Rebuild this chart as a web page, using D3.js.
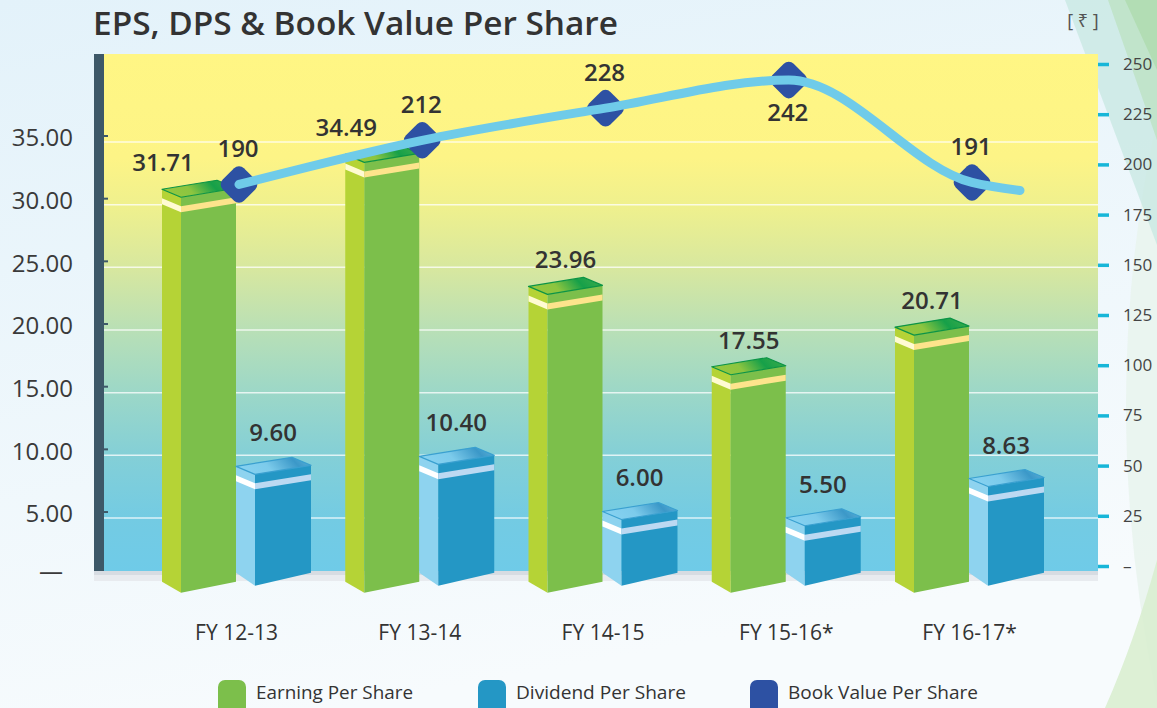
<!DOCTYPE html>
<html><head><meta charset="utf-8">
<script src="https://cdnjs.cloudflare.com/ajax/libs/d3/7.8.5/d3.min.js"></script>
<style>html,body{margin:0;padding:0;background:#eef7fc;}svg{display:block;}</style>
</head><body>
<script>
const categories = ["FY 12-13","FY 13-14","FY 14-15","FY 15-16*","FY 16-17*"];
const epsValues = [31.71, 34.49, 23.96, 17.55, 20.71];
const dpsValues = [9.60, 10.40, 6.00, 5.50, 8.63];
const bvpsValues = [190, 212, 228, 242, 191];
const leftTicks = [0, 5, 10, 15, 20, 25, 30, 35];
const rightTicks = [0, 25, 50, 75, 100, 125, 150, 175, 200, 225, 250];
const seriesNames = ["Earning Per Share", "Dividend Per Share", "Book Value Per Share"];
const titleText = "EPS, DPS & Book Value Per Share";
const unitText = "[ ₹ ]";

const W = 1157, H = 708;
const FONT = "'Open Sans','Noto Sans',sans-serif";
const svg = d3.select("body").append("svg").attr("width", W).attr("height", H);
const defs = svg.append("defs");

// page background
const pg = defs.append("linearGradient").attr("id","pageBg").attr("x1",0).attr("y1",0).attr("x2",0.3).attr("y2",1);
pg.append("stop").attr("offset",0).attr("stop-color","#e3f2fa");
pg.append("stop").attr("offset",1).attr("stop-color","#f7fbfd");
svg.append("rect").attr("width",W).attr("height",H).attr("fill","url(#pageBg)");

// decorative right-hand shapes
const deco = svg.append("g");
deco.append("path").attr("d","M1157,120 Q1095,400 1157,700 Z").attr("fill","#e9f4ee").attr("opacity",0.9);
deco.append("path").attr("d","M1105,708 Q1135,640 1157,560 L1157,708 Z").attr("fill","#d9eed0").attr("opacity",0.9);
deco.append("polygon").attr("points","1065,0 1157,0 1157,245").attr("fill","#c4e7df").attr("opacity",0.7);
deco.append("polygon").attr("points","1108,0 1157,0 1157,140").attr("fill","#bde2c3").attr("opacity",0.8);
deco.append("polygon").attr("points","1125,0 1157,0 1157,70").attr("fill","#abdaa9").attr("opacity",0.7);

// scales
const x = d3.scalePoint().domain(categories).range([236, 969]);
const yL = d3.scaleLinear().domain([0, 35]).range([580.7, 142]);
const yR = d3.scaleLinear().domain([0, 250]).range([566, 64]);

const plot = {x0:104, x1:1098, y0:54, y1:571};

// plot gradient
const bg = defs.append("linearGradient").attr("id","plotBg").attr("gradientUnits","userSpaceOnUse")
  .attr("x1",0).attr("y1",plot.y0).attr("x2",0).attr("y2",plot.y1);
[[0,"#fff684"],[0.2,"#fdf486"],[0.3,"#eef08e"],[0.42,"#d6e7a0"],[0.54,"#b7dfb7"],[0.66,"#9bd7c8"],[0.78,"#83cfd7"],[0.9,"#73cbe3"],[1,"#6fcbe8"]]
  .forEach(s => bg.append("stop").attr("offset", s[0]).attr("stop-color", s[1]));

svg.append("rect").attr("x",plot.x0).attr("y",plot.y0).attr("width",plot.x1-plot.x0).attr("height",plot.y1-plot.y0).attr("fill","url(#plotBg)");
svg.append("rect").attr("x",94).attr("y",plot.y0).attr("width",10).attr("height",plot.y1-plot.y0).attr("fill","#3d5868");
svg.append("rect").attr("x",94).attr("y",plot.y1).attr("width",plot.x1-94).attr("height",4).attr("fill","#d7dce2");
svg.append("rect").attr("x",94).attr("y",plot.y1+4).attr("width",plot.x1-94).attr("height",6).attr("fill","#e8ebef");

// gridlines
svg.append("g").selectAll("line").data(leftTicks.filter(d=>d>0)).join("line")
  .attr("x1",plot.x0).attr("x2",plot.x1).attr("y1",d=>yL(d)).attr("y2",d=>yL(d))
  .attr("stroke","#ffffff").attr("stroke-opacity",0.75).attr("stroke-width",1.5);
svg.append("g").selectAll("line").data(leftTicks.filter(d=>d>0)).join("line")
  .attr("x1",plot.x0).attr("x2",plot.x0+4).attr("y1",d=>yL(d)-6).attr("y2",d=>yL(d)-6)
  .attr("stroke","#3d5868").attr("stroke-width",2);

// title + unit
svg.append("text").attr("x",93).attr("y",35).text(titleText)
  .attr("font-family",FONT).attr("font-weight",600).attr("font-size",32).attr("fill","#333")
  .attr("textLength",525).attr("lengthAdjust","spacingAndGlyphs");
svg.append("text").attr("x",1083).attr("y",27).attr("text-anchor","middle").text(unitText)
  .attr("font-family","'Noto Sans','DejaVu Sans',sans-serif").attr("font-size",18).attr("fill","#555");

// axes
const gl = svg.append("g").attr("transform","translate(80,0)")
  .call(d3.axisLeft(yL).tickValues(leftTicks).tickSize(0).tickPadding(7).tickFormat(d => d===0 ? "—" : d.toFixed(2)));
gl.select(".domain").remove();
gl.selectAll("text").attr("font-family",FONT).attr("font-size",24).attr("fill","#3a3a3a").attr("y",-4)
  .filter(d=>d===0).attr("x",-17).attr("y",-9);

const gr = svg.append("g").attr("transform",`translate(${plot.x1},0)`)
  .call(d3.axisRight(yR).tickValues(rightTicks).tickSize(11).tickPadding(14).tickFormat(d => d===0 ? "–" : d));
gr.select(".domain").remove();
gr.selectAll(".tick line").attr("stroke","#17b6d8").attr("stroke-width",3.5);
gr.selectAll("text").attr("font-family",FONT).attr("font-size",17).attr("fill","#444");

const gb = svg.append("g").attr("transform","translate(0,625)")
  .call(d3.axisBottom(x).tickSize(0).tickPadding(0));
gb.select(".domain").remove();
gb.selectAll("text").attr("font-family",FONT).attr("font-size",21).attr("fill","#333");

// top face gradients
function grad(id, stops){
  const g = defs.append("linearGradient").attr("id",id).attr("x1",0).attr("y1",0.5).attr("x2",1).attr("y2",0.3);
  stops.forEach(s => g.append("stop").attr("offset",s[0]).attr("stop-color",s[1]));
}
grad("epsTop", [[0,"#95c83e"],[0.35,"#8cc540"],[0.7,"#16a049"],[1,"#3aab4b"]]);
grad("dpsTop", [[0,"#86d2f1"],[0.4,"#7ccbeb"],[0.8,"#3b98c8"],[1,"#5aaed6"]]);

const styles = {
  eps: {side:"#b5d336", front:"#7cbf4b", sideStripe:"#fffbd2", frontStripe:"#fde48c", top:"url(#epsTop)", edge:"#0c9446", base:[1,12,1]},
  dps: {side:"#8ed3ef", front:"#2497c5", sideStripe:"#ffffff", frontStripe:"#bcd9f2", top:"url(#dpsTop)", edge:"#3aa0d0", base:[-8,5,-8]}
};

function box(g, sx0, fx0, fx1, v, st){
  const yv = yL(v), y0 = yL(0), d = fx0 - sx0;
  const P = pts => pts.map(p=>p.join(",")).join(" ");
  g.append("polygon").attr("points",P([[sx0,yv+6],[fx0,yv+14],[fx0,y0+st.base[1]],[sx0,y0+st.base[0]]])).attr("fill",st.side);
  g.append("polygon").attr("points",P([[fx0,yv+14],[fx1,yv+5],[fx1,y0+st.base[2]],[fx0,y0+st.base[1]]])).attr("fill",st.front);
  const s1 = 9, s2 = 15;
  g.append("polygon").attr("points",P([[sx0,yv+6+s1],[fx0,yv+14+s1],[fx0,yv+14+s2],[sx0,yv+6+s2]])).attr("fill",st.sideStripe);
  g.append("polygon").attr("points",P([[fx0,yv+14+s1],[fx1,yv+5+s1],[fx1,yv+5+s2],[fx0,yv+14+s2]])).attr("fill",st.frontStripe);
  g.append("polygon").attr("points",P([[sx0,yv+6],[fx1-d,yv-3],[fx1,yv+5],[fx0,yv+14]]))
    .attr("fill",st.top).attr("stroke",st.edge).attr("stroke-width",1.2).attr("stroke-linejoin","round");
}

const bars = svg.append("g");
categories.forEach((c,i) => {
  const cx = x(c);
  box(bars, cx-74, cx-55, cx, epsValues[i], styles.eps);
  box(bars, cx, cx+19, cx+75, dpsValues[i], styles.dps);
});

// book value markers + line
const bvPts = categories.map((c,i) => [x(c)+3, yR(bvpsValues[i])]);
const mk = svg.append("g");
bvPts.forEach(p => {
  mk.append("rect").attr("x",-15).attr("y",-15).attr("width",30).attr("height",30).attr("rx",7)
    .attr("fill","#2d51a3").attr("transform",`translate(${p[0]},${p[1]}) rotate(45)`);
});
const last = bvPts[bvPts.length-1];
const linePts = bvPts.concat([[last[0]+48, last[1]+8]]);
svg.append("path").attr("d", d3.line().curve(d3.curveMonotoneX)(linePts))
  .attr("fill","none").attr("stroke","#6fcbe9").attr("stroke-width",9).attr("stroke-linecap","round");

// value labels
const lab = svg.append("g").attr("font-family",FONT).attr("font-weight",600).attr("fill","#333").attr("text-anchor","middle");
categories.forEach((c,i) => {
  const cx = x(c);
  // EPS label: shift left if overlapping the book-value marker
  let ex = cx - 37, ey = yL(epsValues[i]) - 12;
  const m = bvPts[i];
  const overlapX = (ex + 30) > (m[0] - 21) && (ex - 30) < (m[0] + 21);
  const overlapY = ey > (m[1] - 21) && (ey - 18) < (m[1] + 21);
  if (overlapX && overlapY) ex -= 36;
  lab.append("text").attr("x",ex).attr("y",ey).attr("font-size",24).text(epsValues[i].toFixed(2));
  lab.append("text").attr("x",cx+37).attr("y",yL(dpsValues[i]) - 19).attr("font-size",24).text(dpsValues[i].toFixed(2));
  let by = m[1] - 27;
  if (by - 20 < plot.y0) by = m[1] + 41;
  lab.append("text").attr("x",m[0]-1).attr("y",by).attr("font-size",24).text(bvpsValues[i]);
});

// legend
const legColors = ["#7cbf4b","#2497c5","#2d51a3"];
const legX = [218, 478, 750];
const legLen = [157, 170, 190];
const lg = svg.append("g");
seriesNames.forEach((n,i) => {
  lg.append("rect").attr("x",legX[i]).attr("y",680).attr("width",28).attr("height",36).attr("rx",7).attr("fill",legColors[i]);
  lg.append("text").attr("x",legX[i]+38).attr("y",699).text(n)
    .attr("font-family",FONT).attr("font-size",19).attr("fill","#333")
    .attr("textLength",legLen[i]).attr("lengthAdjust","spacingAndGlyphs");
});
</script>
</body></html>
